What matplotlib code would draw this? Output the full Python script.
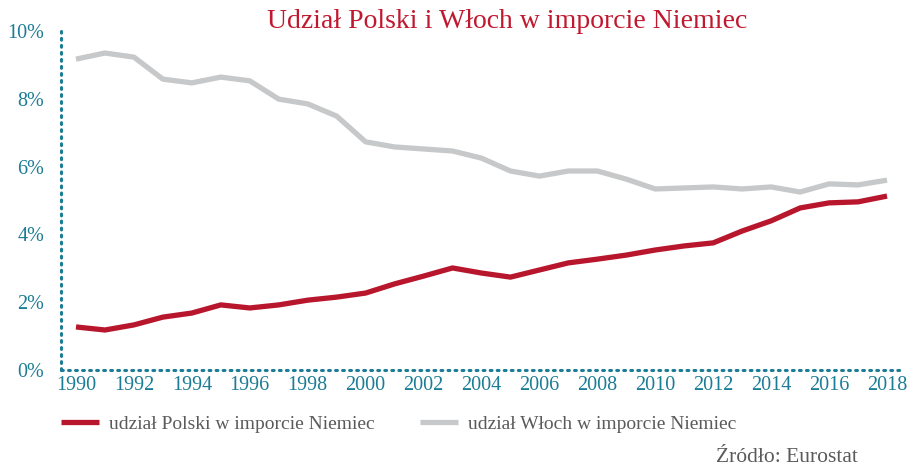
import matplotlib
matplotlib.use("Agg")
import matplotlib.pyplot as plt
from matplotlib.ticker import FuncFormatter

years = list(range(1990, 2019))
poland = [1.27, 1.18, 1.33, 1.56, 1.68, 1.92, 1.83, 1.92, 2.06, 2.15, 2.27, 2.54, 2.77, 3.01,
          2.86, 2.74, 2.95, 3.16, 3.27, 3.39, 3.54, 3.66, 3.75, 4.10, 4.40, 4.78, 4.93, 4.96, 5.13]
italy = [9.17, 9.35, 9.23, 8.58, 8.47, 8.64, 8.53, 7.99, 7.85, 7.49, 6.73, 6.58, 6.52, 6.46,
         6.25, 5.87, 5.72, 5.87, 5.87, 5.63, 5.34, 5.37, 5.40, 5.34, 5.40, 5.25, 5.49, 5.46, 5.60]
xticks = list(range(1990, 2019, 2))
yticks = [0, 2, 4, 6, 8, 10]
title = "Udział Polski i Włoch w imporcie Niemiec"
label_pl = "udział Polski w imporcie Niemiec"
label_it = "udział Włoch w imporcie Niemiec"
source = "Źródło: Eurostat"

plt.rcParams['font.family'] = ['Liberation Serif', 'DejaVu Serif']
teal = "#1B7C95"
red = "#B8162C"
gray = "#C6C8CA"

fig = plt.figure(figsize=(9.1, 4.68), dpi=100)
ax = fig.add_axes([61/910, 1-370/468, (900-61)/910, (370-31)/468])
ax.plot(years, italy, color=gray, lw=3.8, solid_capstyle='butt', label=label_it, zorder=3)
ax.plot(years, poland, color=red, lw=3.8, solid_capstyle='butt', label=label_pl, zorder=4)
ax.set_xlim(1990 - 15/29, 2018 + 13/29)
ax.set_ylim(0, 10)
ax.set_xticks(xticks)
ax.set_yticks(yticks)
ax.yaxis.set_major_formatter(FuncFormatter(lambda v, p: f"{int(v)}%"))
ax.tick_params(length=0, colors=teal, labelsize=14.5)
ax.tick_params(axis='y', pad=12)
ax.tick_params(axis='x', pad=4)
for s in ['top', 'right']:
    ax.spines[s].set_visible(False)
for s in ['left', 'bottom']:
    ax.spines[s].set_color(teal)
    ax.spines[s].set_linewidth(2.2)
    ax.spines[s].set_linestyle((0, (0.6, 1.7)))
    ax.spines[s].set_capstyle('round')

fig.text(507/910, 1-22/468, title, color="#C0192F", fontsize=20, ha='center', va='center')

# legend
h, l = ax.get_legend_handles_labels()
leg = fig.legend([h[1], h[0]], [l[1], l[0]], loc='center left', bbox_to_anchor=(43/910, 1-424/468),
                 ncol=2, frameon=False, fontsize=14, handlelength=2.0, columnspacing=2.3,
                 handletextpad=0.5, labelcolor="#5a5a5a")
fig.text(858/910, 1-458/468, source, color="#5a5a5a", fontsize=15.5, ha='right', va='center')

fig.savefig("out.png", dpi=100)
